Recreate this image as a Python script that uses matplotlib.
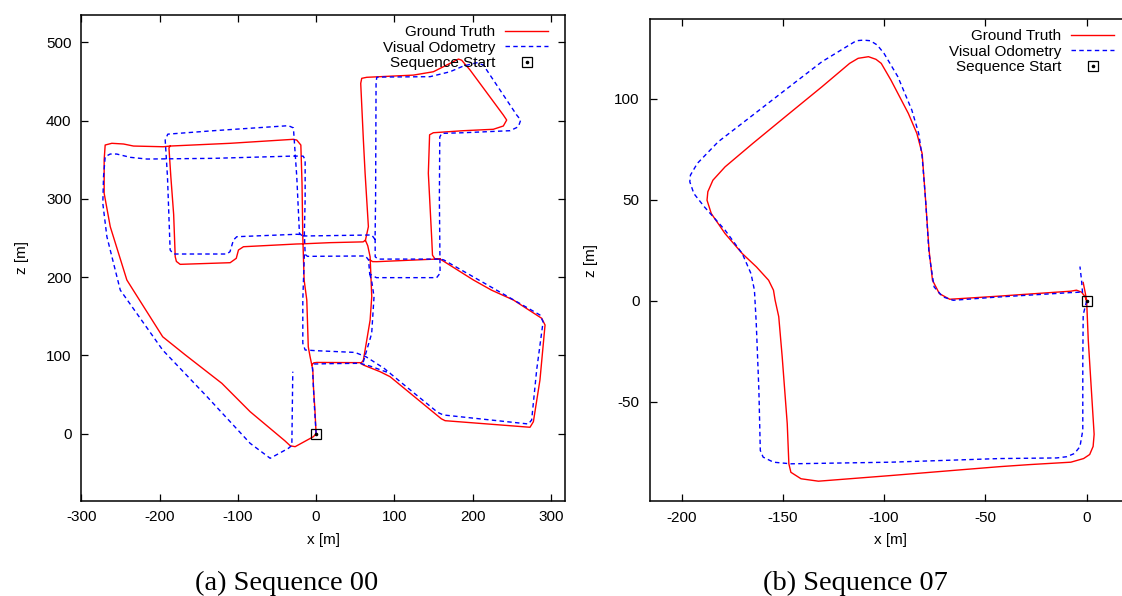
import numpy as np
import matplotlib
matplotlib.use("Agg")
import matplotlib.pyplot as plt
from matplotlib.legend_handler import HandlerTuple

# --- Data (x, z in metres), NaN rows split separate pieces of a path ---

NAN = (np.nan, np.nan)

GT00 = np.array([
    (0, 0), (-1.5, 30), (-3.4, 60), (-4.2, 81.4), (-5.5, 87.8), (-7.7, 98.3), (-10, 111),
    (-11.9, 170.7), (-15.3, 196.3), (-17, 251.6), (-18, 320), (-19.5, 368.7), (-24.7, 375),
    (-29, 376), (-109.8, 370.9), (-186.5, 367.4), (-188, 365), (-185.6, 328.2), (-182, 280),
    (-180, 226), (-178.5, 220), (-173.7, 216.3), (-109.8, 218.4), (-102, 224), (-99.2, 234.6),
    (-92.8, 238.8), (-24.7, 242.3), (-17, 242.5), (17.9, 244), (60, 245), (63, 247), (66.8, 264.4),
    (62.6, 332.6), (60.4, 375), (57, 447.5), (58.3, 453.9), (64.7, 455.2), (124.3, 458),
    (149.8, 462.3), (171.1, 473), (181.8, 478.5), (186, 477), (196.7, 464.5), (239.2, 407),
    (243.5, 400.6), (239.2, 393), (226.4, 388.8), (188.1, 387), (149.8, 384.4), (145, 381.8),
    (143.4, 332.6), (147.8, 247.4), (148.7, 228), (152, 223), (158.4, 223.1), (201, 196.3),
    (224, 183.4), (252, 170.8), (288.2, 147.4), (292.5, 138.8), (286, 68.6), (277.6, 15.3),
    (273.3, 8.2), (164.8, 16.6), (160, 19), (94.5, 72.8), (81.7, 79.2), (60.4, 87.7),
    (56, 90.7), (1, 91), (-3, 90.5), (-5.5, 87.8),
    NAN,
    (-186.5, 367.4), (-195, 366.5), (-233.3, 367.4), (-246, 370), (-261, 370.9), (-269.5, 368.7),
    (-270.8, 349.6), (-270.8, 307), (-263, 264.4), (-241.8, 196.3), (-233.7, 183.4),
    (-196, 123.8), (-167.6, 101), (-120.4, 64.3), (-84.3, 28.1), (-40, -9), (-33, -15.5),
    (-26.8, -16.6), (-3.4, -3.8), (0, 0),
    NAN,
    (63, 247), (66, 240), (69, 226), (71.1, 175), (69, 145), (62.6, 106.9), (60.4, 94), (58, 90.7),
    NAN,
    (69, 222), (72, 219.8), (77.5, 219.7), (145.6, 222.7), (158.4, 223.1),
])

VO00 = np.array([
    (0, 0), (-2.5, 40), (-4.7, 85.6), (-2.6, 89), (20, 89.5), (56.2, 89.9), (70, 86),
    (94.5, 77.1), (125, 52), (155.4, 27.2), (162.6, 23.9), (271.2, 12.4), (275.4, 17.5),
    (281.8, 81.4), (290, 142.9), (286, 151.6), (256.3, 168.6), (196.7, 202.7), (163, 222),
    (158, 223), (79, 223), (75.5, 226), (75.4, 253), (76, 300), (76.6, 447.5), (77.5, 455.2),
    (80, 455.5), (145.6, 456), (171.1, 462.3), (188.1, 469.6), (205.2, 473.8), (213.7, 470.9),
    (256.3, 407), (261.4, 400.6), (258.4, 392), (247.8, 387), (188.1, 384.4), (160.5, 383.6),
    (158, 379), (157.5, 300), (158.4, 205), (154, 199.3), (77, 199.3), (68.5, 204), (67, 222),
    (63, 227), (-11, 226.5), (-14, 229), (-15, 256), (-14, 300), (-14, 350), (-16.5, 354.5),
    (-29, 354.6), (-131, 351.7), (-216.2, 350.8), (-237.5, 353), (-254.8, 357.2), (-263, 357.2),
    (-269.5, 353.8), (-271.6, 328.2), (-272.5, 294), (-267.3, 251.6), (-254.5, 200.5),
    (-250.2, 183.4), (-196, 106.8), (-139.3, 47.2), (-84.3, -12.3), (-58.7, -31.4),
    (-35.4, -18.7), (-31, -15), (-29.8, 79.2),
    NAN,
    (75.4, 248), (71, 253.8), (-16, 252.5), (-21, 254.5), (-24.7, 254.7), (-101.3, 251.6),
    (-105.6, 247.4), (-110, 232.5), (-114, 229.5), (-182.2, 229.5), (-186.5, 234.6),
    (-189.9, 328.2), (-192.8, 375), (-189.5, 382.6), (-131, 387), (-35.4, 393.4), (-29, 390.6),
    (-24.7, 328.2), (-21.3, 256), (-17, 252),
    NAN,
    (-15, 229), (-16, 200), (-17, 170.7), (-17, 115.5), (-14, 106.9), (0, 106), (49.6, 103.8),
    (63.7, 98.3), (87, 83.4), (94.5, 77.1),
    NAN,
    (68.5, 204), (71, 195), (74, 175), (71, 128), (60.4, 92), (56.2, 89.9),
])

GT07 = np.array([
    (-1.7, 9.1), (-0.5, 3), (0, 0), (0.8, -19.3), (3.7, -66), (3.2, -72), (1.5, -76),
    (-1.5, -78), (-7.8, -79.8), (-28.3, -81), (-42.8, -82), (-62.5, -83.6), (-96.6, -86.4),
    (-132.4, -89.2), (-141, -88), (-146, -84.8), (-147, -80.6), (-147.8, -60.8),
    (-150.3, -27.6), (-152, -7.8), (-153.8, 0.4), (-154.6, 5.3), (-157, 10.2), (-163, 16.8),
    (-170, 23.4), (-178.5, 33.3), (-185.3, 43.2), (-187.4, 49.8), (-187, 54), (-184.5, 59.7),
    (-178.5, 66.3), (-164.8, 77.9), (-147.8, 91.9), (-130.7, 105.9), (-117, 117.5),
    (-112.8, 120), (-107.7, 120.8), (-104, 119.5), (-101.4, 117.5), (-96.6, 109.2),
    (-88, 92.7), (-83.8, 82.8), (-81.2, 72.9), (-79.5, 49.8), (-77.8, 25.1), (-76.1, 10.2),
    (-72.7, 3.6), (-67.6, 0.8), (-45.4, 2.2), (-7.8, 4.8), (-5, 5.3), (-2.5, 4.3),
    (-0.8, 2.1), (0, 0),
])

VO07 = np.array([
    (0, 0), (-1.7, -6.9), (-1.9, -30), (-1.9, -64), (-3.3, -72.1), (-6, -75.5), (-9.9, -77.1),
    (-14.8, -77.7), (-42.8, -78), (-96.6, -79.8), (-146, -80.6), (-154.6, -79.8),
    (-159.7, -77.3), (-161.1, -74), (-161.8, -44.2), (-163.1, -11.1), (-164, 5.3),
    (-165.7, 13.5), (-170, 23.4), (-178.5, 35), (-188.7, 46.5), (-193.9, 53.1), (-195.9, 58.9),
    (-195.6, 62.2), (-192.2, 68), (-181.9, 78.7), (-164.8, 91.9), (-147.8, 105.1),
    (-130.7, 118.3), (-113.7, 128.7), (-110.2, 129), (-106.8, 128.7), (-103.4, 126.6),
    (-100, 122.4), (-93.2, 110.9), (-86.3, 94.4), (-82.9, 82.8), (-81.2, 71.3), (-79.5, 49.8),
    (-77.8, 23.4), (-75.3, 6.9), (-71, 2), (-65.9, 0.3), (-45.4, 1.8), (-7.8, 4.1),
    (-3.3, 4.3), (-2, 3.8), (-2.5, 10), (-3.3, 17),
])

START00 = (0, 0)
START07 = (0, 0)

LABELS = ["Ground Truth", "Visual Odometry", "Sequence Start"]
CAPTIONS = ["(a) Sequence 00", "(b) Sequence 07"]

XTICKS00 = [-300, -200, -100, 0, 100, 200, 300]
YTICKS00 = [0, 100, 200, 300, 400, 500]
XTICKS07 = [-200, -150, -100, -50, 0]
YTICKS07 = [-50, 0, 50, 100]

# --- Style ---
RED = "#ff0000"
BLUE = "#0000ff"
DASH = (0, (3.2, 2.4))
FS = 11
plt.rcParams["font.family"] = ["Liberation Sans", "DejaVu Sans"]
plt.rcParams["axes.unicode_minus"] = False

W, H = 1122, 596
fig = plt.figure(figsize=(W / 100, H / 100), dpi=100)


def add_axes_px(left, top, right, bottom):
    return fig.add_axes([left / W, 1 - bottom / H, (right - left) / W, (bottom - top) / H])


def draw_panel(ax, gt, vo, start, xlim, ylim, xticks, yticks, w_px, h_px):
    ax.plot(gt[:, 0], gt[:, 1], color=RED, lw=1.0)
    ax.plot(vo[:, 0], vo[:, 1], color=BLUE, lw=1.0, linestyle=DASH)
    sq, = ax.plot(*start, marker="s", ms=6.5, mfc="none", mec="black", mew=0.9, ls="none")
    dot, = ax.plot(*start, marker="o", ms=1.6, color="black", ls="none")
    ax.set_xlim(*xlim)
    ax.set_ylim(*ylim)
    ax.set_xticks(xticks)
    ax.set_yticks(yticks)
    ax.tick_params(direction="in", length=5, width=0.9, top=True, right=True,
                   labelsize=FS, pad=7)
    for s in ax.spines.values():
        s.set_linewidth(1.1)
    ax.set_xlabel("x [m]", fontsize=FS, labelpad=6)
    ax.set_ylabel("z [m]", fontsize=FS, labelpad=12)

    h_gt = plt.Line2D([], [], color=RED, lw=1.0)
    h_vo = plt.Line2D([], [], color=BLUE, lw=1.0, linestyle=DASH)
    ax.legend([h_gt, h_vo, (sq, dot)], LABELS, loc="upper right",
              bbox_to_anchor=(1 - 17 / w_px, 1 - 10 / h_px), frameon=False,
              markerfirst=False, fontsize=FS, handlelength=2.8, handletextpad=0.65,
              labelspacing=0.1, borderpad=0, borderaxespad=0,
              handler_map={tuple: HandlerTuple(ndivide=1)})


ax0 = add_axes_px(81.3, 15.3, 565, 500.7)
draw_panel(ax0, GT00, VO00, START00, (-299.7, 318), (-85.6, 534.4),
           XTICKS00, YTICKS00, 565 - 81.3, 500.7 - 15.3)

ax1 = add_axes_px(649.5, 19.3, 1131, 501)
draw_panel(ax1, GT07, VO07, START07, (-215.8, 21.9), (-99, 139.3),
           XTICKS07, YTICKS07, 1131 - 649.5, 501 - 19.3)

fig.text(287 / W, 1 - 583 / H, CAPTIONS[0], ha="center", va="center",
         family=["Liberation Serif", "DejaVu Serif"], fontsize=20.5)
fig.text(855 / W, 1 - 583 / H, CAPTIONS[1], ha="center", va="center",
         family=["Liberation Serif", "DejaVu Serif"], fontsize=20.5)

fig.savefig("out.png", dpi=100)
